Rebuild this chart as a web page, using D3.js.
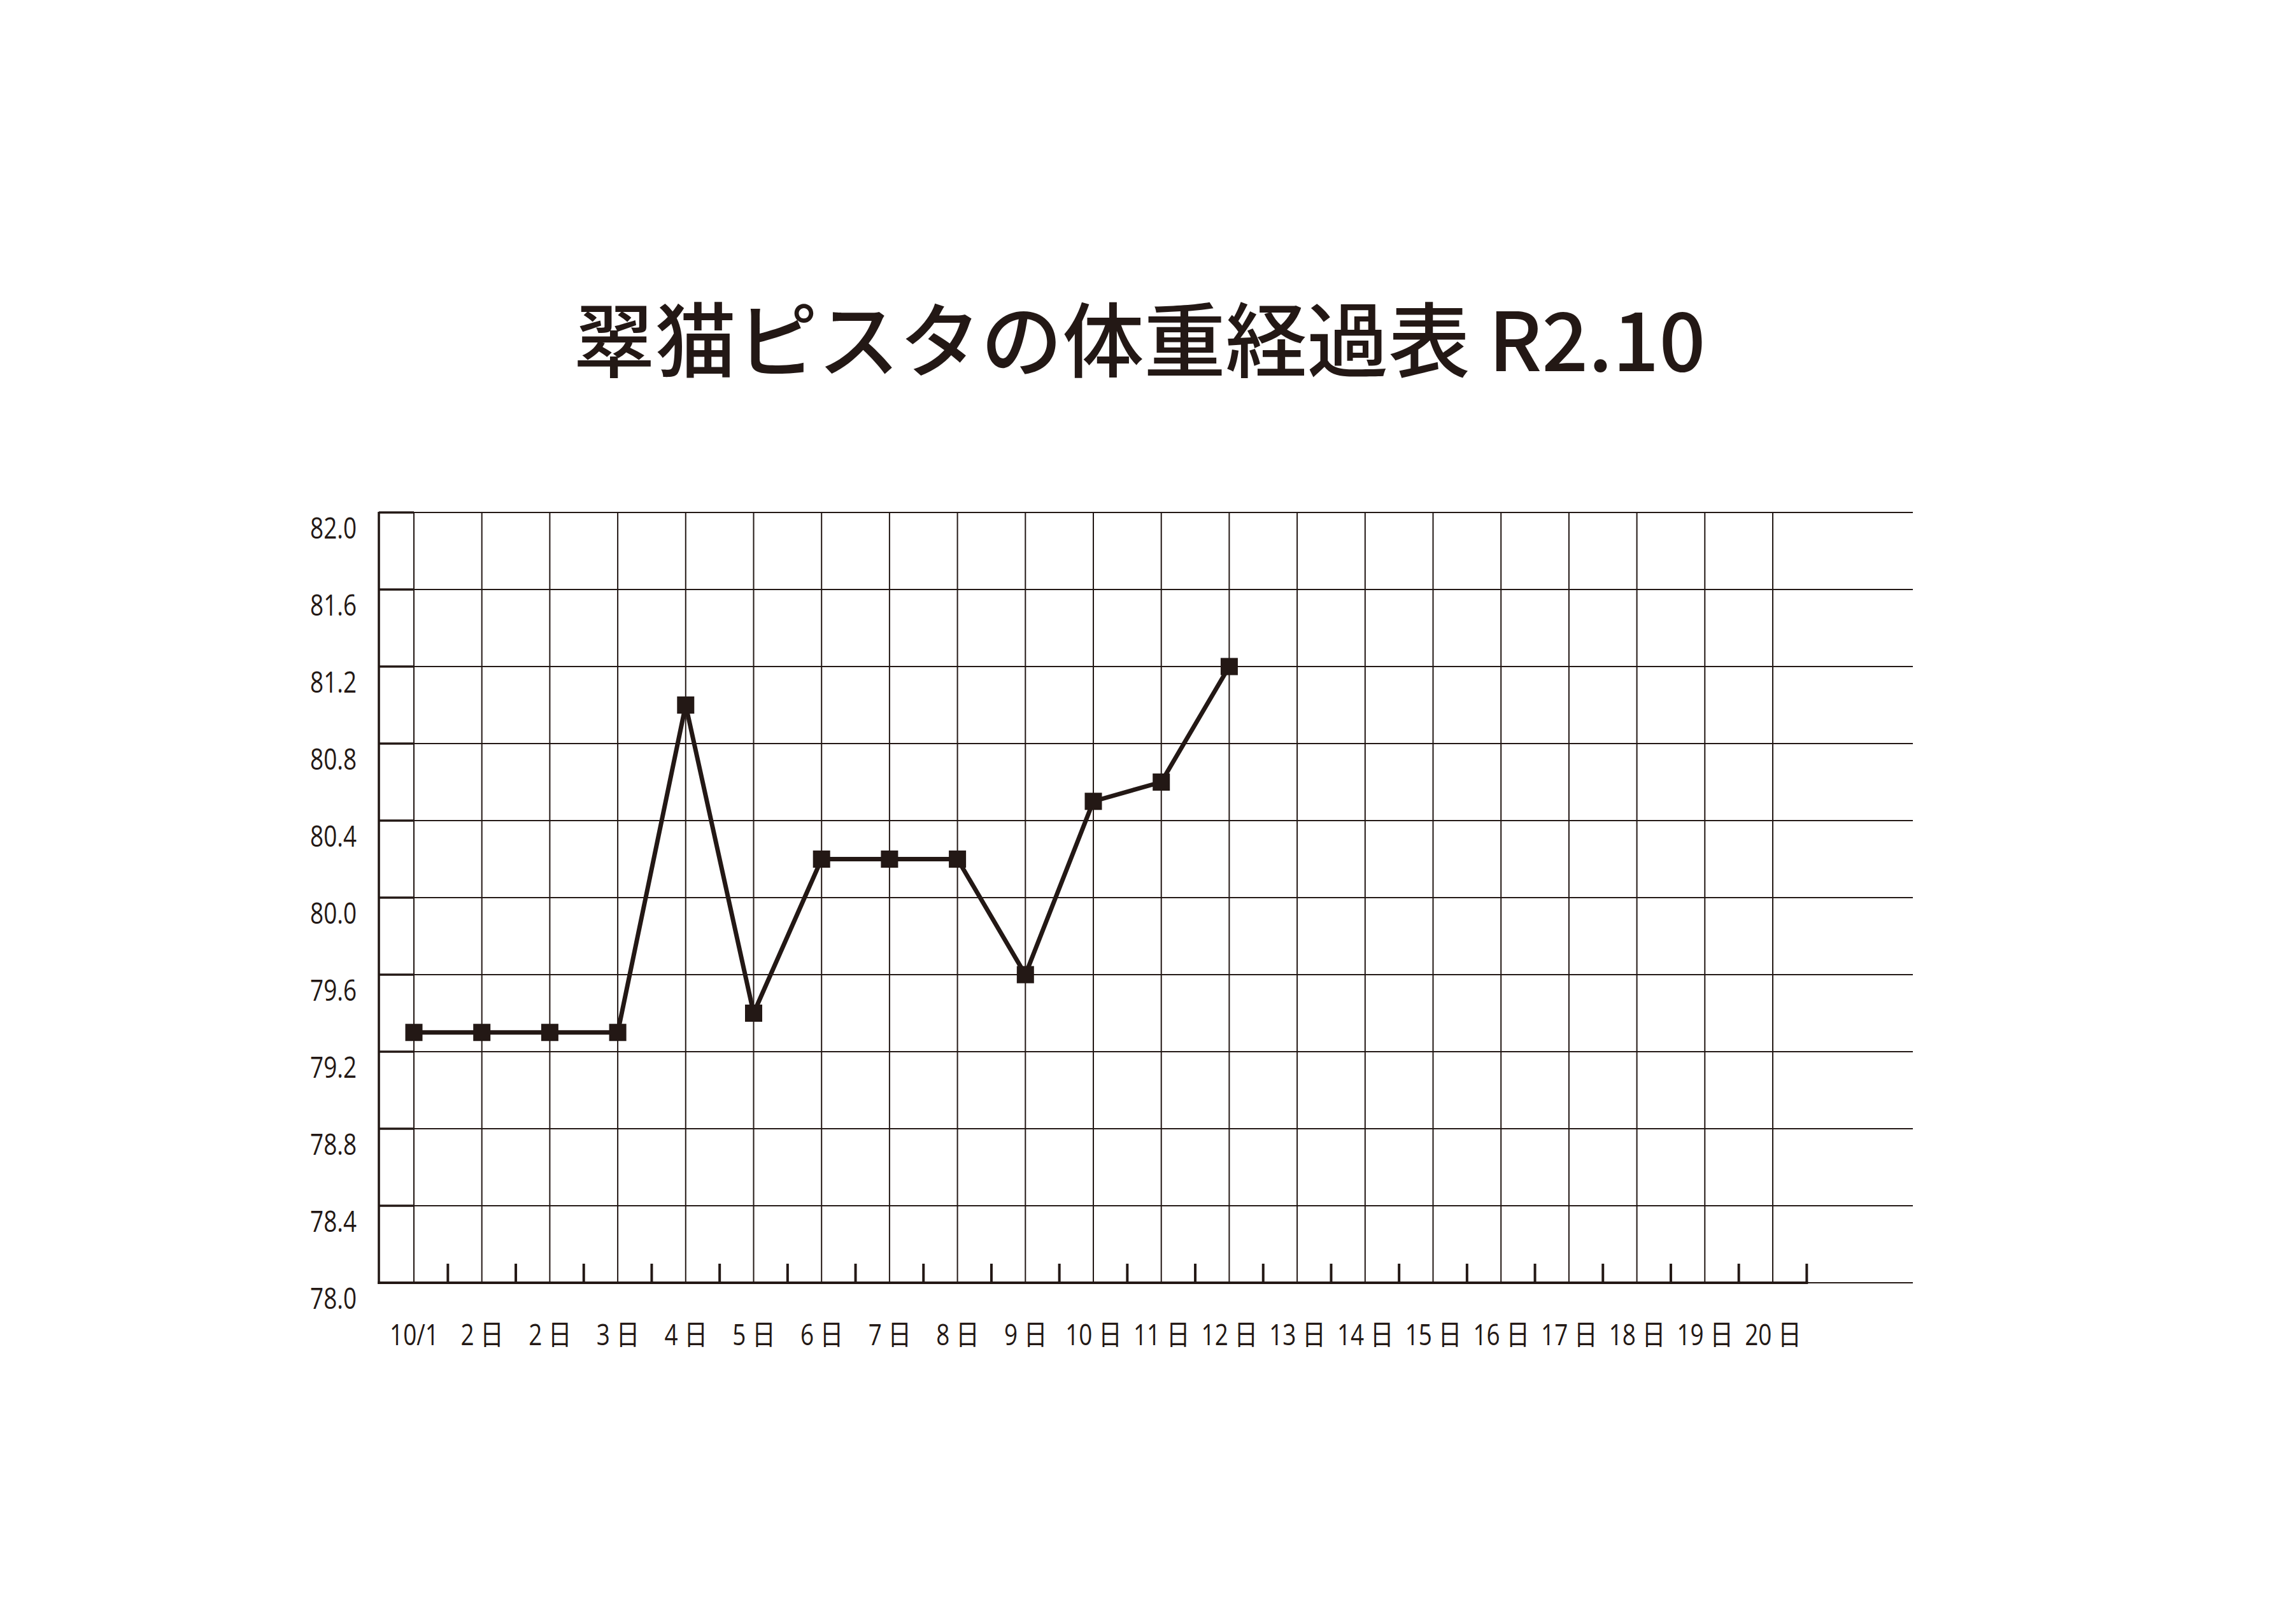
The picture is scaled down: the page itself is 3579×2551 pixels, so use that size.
<!DOCTYPE html>
<html>
<head>
<meta charset="utf-8">
<script src="https://cdn.jsdelivr.net/npm/d3@7"></script>
<style>
  html, body { margin: 0; padding: 0; background: #fff; }
  svg { display: block; }
</style>
</head>
<body>
<div class="chart"></div>
<script>
// data
var titleText = "翠猫ピスタの体重経過表 R2.10";
var dayLabels = ["10/1", "2 日", "2 日", "3 日", "4 日", "5 日", "6 日", "7 日", "8 日", "9 日",
  "10 日", "11 日", "12 日", "13 日", "14 日", "15 日", "16 日", "17 日", "18 日", "19 日", "20 日"];
var weights = [79.3, 79.3, 79.3, 79.3, 81.0, 79.4, 80.2, 80.2, 80.2, 79.6, 80.5, 80.6, 81.2];
var yTicks = [78.0, 78.4, 78.8, 79.2, 79.6, 80.0, 80.4, 80.8, 81.2, 81.6, 82.0];

var svgWidth = 3579;
var svgHeight = 2551;
var ink = "#231815";
var narrow = 0.82;

var axisX = 595;      // heavy left axis
var gridRight = 3004; // horizontal lines run past the last day
var plotTop = 805, plotBottom = 2015;

var svg = d3.select(".chart")
  .append("svg")
  .attr("width", svgWidth)
  .attr("height", svgHeight);

// scales
var xScale = d3.scaleLinear()
  .domain([0, dayLabels.length - 1])
  .range([650, 2784]);

var yScale = d3.scaleLinear()
  .domain([78, 82])
  .range([plotBottom, plotTop]);

var step = xScale(1) - xScale(0);

// title
svg.append("text")
  .attr("x", svgWidth / 2)
  .attr("y", 583)
  .attr("text-anchor", "middle")
  .attr("font-family", "'Noto Sans CJK JP', sans-serif")
  .attr("font-weight", 500)
  .attr("font-size", 128)
  .attr("fill", ink)
  .text(titleText);

var grid = svg.append("g");

// horizontal grid lines
grid.selectAll(".hline")
  .data(yTicks)
  .enter()
  .append("line")
  .attr("x1", axisX)
  .attr("x2", gridRight)
  .attr("y1", d => yScale(d))
  .attr("y2", d => yScale(d))
  .attr("stroke", ink)
  .attr("stroke-width", 2);

// short heavy marks between the axis and the first day
grid.selectAll(".hmark")
  .data(yTicks)
  .enter()
  .append("line")
  .attr("x1", axisX)
  .attr("x2", xScale(0))
  .attr("y1", d => yScale(d))
  .attr("y2", d => yScale(d))
  .attr("stroke", ink)
  .attr("stroke-width", 3.6);

// vertical grid lines, one per day
grid.selectAll(".vline")
  .data(dayLabels)
  .enter()
  .append("line")
  .attr("x1", (d, i) => xScale(i))
  .attr("x2", (d, i) => xScale(i))
  .attr("y1", plotTop)
  .attr("y2", plotBottom)
  .attr("stroke", ink)
  .attr("stroke-width", 2);

// heavy left axis
grid.append("line")
  .attr("x1", axisX).attr("x2", axisX)
  .attr("y1", plotTop - 1).attr("y2", plotBottom + 2)
  .attr("stroke", ink)
  .attr("stroke-width", 3.6);

// heavy bottom axis, ends at the last half-day tick
grid.append("line")
  .attr("x1", axisX - 1.8)
  .attr("x2", xScale(dayLabels.length - 1) + step / 2 + 2)
  .attr("y1", plotBottom).attr("y2", plotBottom)
  .attr("stroke", ink)
  .attr("stroke-width", 4);

// half-day ticks on the bottom axis
grid.selectAll(".mtick")
  .data(dayLabels)
  .enter()
  .append("line")
  .attr("x1", (d, i) => xScale(i) + step / 2)
  .attr("x2", (d, i) => xScale(i) + step / 2)
  .attr("y1", plotBottom)
  .attr("y2", plotBottom - 30)
  .attr("stroke", ink)
  .attr("stroke-width", 4);

// y axis labels
var leftAxis = d3.axisLeft(yScale)
  .tickValues(yTicks)
  .tickSize(0)
  .tickFormat(d3.format(".1f"));

var yAxisG = svg.append("g")
  .attr("transform", `translate(${axisX}, 0)`)
  .call(leftAxis);
yAxisG.select(".domain").remove();
yAxisG.selectAll("text")
  .attr("x", -35 / narrow)
  .attr("y", 40)
  .attr("dy", null)
  .attr("transform", `scale(${narrow},1)`)
  .attr("font-family", "'Open Sans', 'Noto Sans CJK JP', sans-serif")
  .attr("font-size", 45)
  .attr("fill", ink);

// x axis labels
var bottomAxis = d3.axisBottom(xScale)
  .tickValues(d3.range(dayLabels.length))
  .tickSize(0)
  .tickFormat(i => dayLabels[i]);

var xAxisG = svg.append("g")
  .attr("transform", `translate(0, ${plotBottom})`)
  .call(bottomAxis);
xAxisG.select(".domain").remove();
xAxisG.selectAll("text")
  .attr("y", 98)
  .attr("dy", null)
  .attr("transform", `scale(${narrow},1)`)
  .attr("font-family", "'Open Sans', 'Noto Sans CJK JP', sans-serif")
  .attr("font-size", 45)
  .attr("fill", ink);

// weight line
var line = d3.line()
  .x((d, i) => xScale(i))
  .y(d => yScale(d));

svg.append("path")
  .datum(weights)
  .attr("d", line)
  .attr("fill", "none")
  .attr("stroke", ink)
  .attr("stroke-width", 7)
  .attr("stroke-linejoin", "round");

// square markers
var size = 27;
svg.selectAll(".marker")
  .data(weights)
  .enter()
  .append("rect")
  .attr("x", (d, i) => xScale(i) - size / 2)
  .attr("y", d => yScale(d) - size / 2)
  .attr("width", size)
  .attr("height", size)
  .attr("fill", ink);
</script>
</body>
</html>
